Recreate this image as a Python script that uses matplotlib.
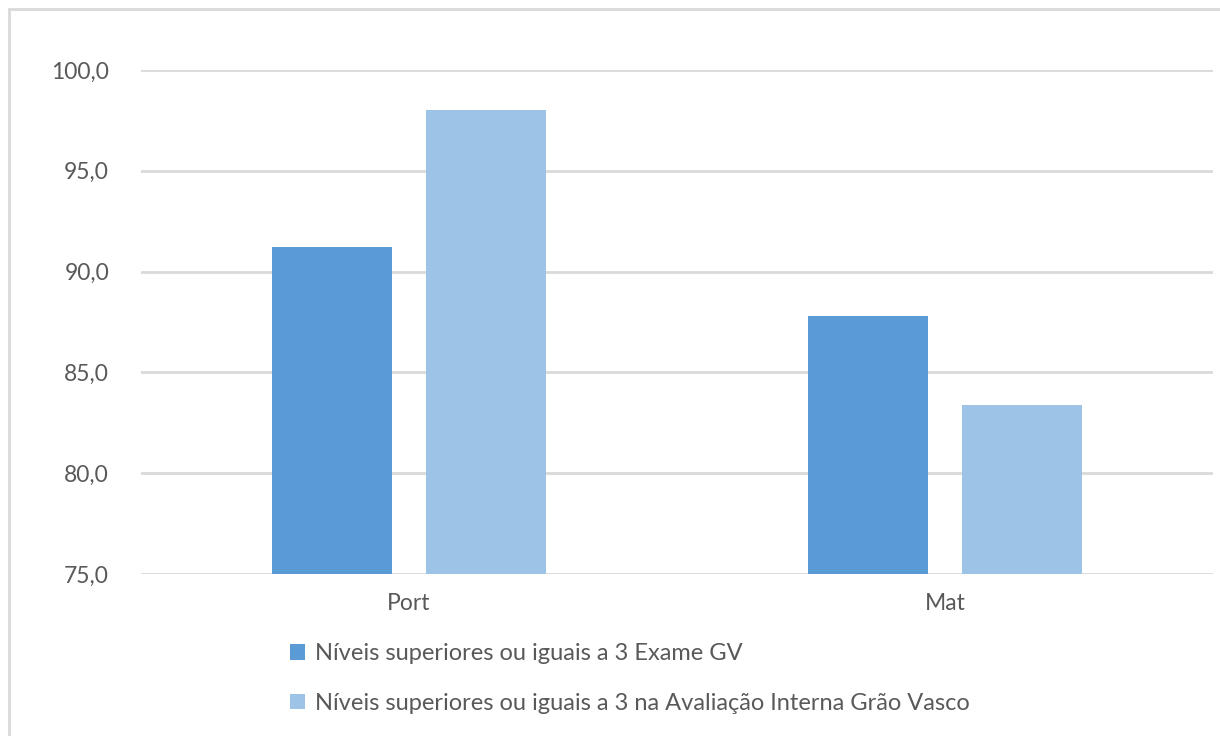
import matplotlib.pyplot as plt
import numpy as np
from matplotlib.patches import Rectangle

categories = ["Port", "Mat"]
exame_gv = [91.2, 87.8]
avaliacao_interna = [98.0, 83.4]
series_names = ["Níveis superiores ou iguais a 3 Exame GV",
                "Níveis superiores ou iguais a 3 na Avaliação Interna Grão Vasco"]
y_ticks = [75, 80, 85, 90, 95, 100]

plt.rcParams['font.family'] = ['Lato', 'DejaVu Sans']
text_color = '#595959'

fig = plt.figure(figsize=(12.2, 7.36), dpi=100)
ax = fig.add_axes([0.1156, 0.2201, 0.8787, 0.6848])

# moldura cinzenta da área do gráfico (cortada à direita e em baixo)
fig.patches.append(Rectangle((9 / 1220, -0.1), 1.2, (736 - 9) / 736 + 0.1,
                             transform=fig.transFigure, fill=False,
                             edgecolor='#D9D9D9', linewidth=2))

x = np.arange(len(categories))
w = 0.224
b1 = ax.bar(x - 0.143, np.array(exame_gv) - 75, w, bottom=75, color='#5B9BD5')
b2 = ax.bar(x + 0.143, np.array(avaliacao_interna) - 75, w, bottom=75, color='#9DC3E6')

ax.set_xlim(-0.5, 1.5)
ax.set_ylim(75, 100)
ax.set_yticks(y_ticks)
ax.set_yticklabels([f"{v:.1f}".replace('.', ',') for v in y_ticks])
ax.set_xticks(x)
ax.set_xticklabels(categories)
ax.tick_params(length=0, colors=text_color, labelsize=16.5)
ax.tick_params(axis='y', pad=23)
ax.tick_params(axis='x', pad=14)
ax.grid(axis='y', color='#D9D9D9', linewidth=2)
ax.set_axisbelow(True)
for s in ax.spines.values():
    s.set_visible(False)

leg = fig.legend([b1, b2], series_names, loc='upper left',
                 bbox_to_anchor=(281 / 1220, 1 - 634 / 736),
                 frameon=False, fontsize=17, handlelength=0.62, handleheight=0.62,
                 handletextpad=0.4, labelspacing=1.2, borderaxespad=0)
for t in leg.get_texts():
    t.set_color(text_color)

fig.savefig('out.png', dpi=100, facecolor='white')
